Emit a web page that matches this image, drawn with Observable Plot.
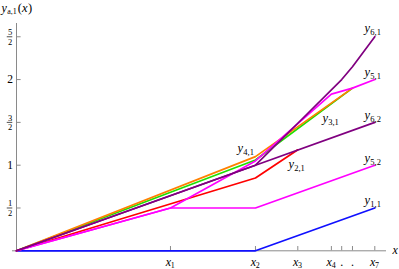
<!DOCTYPE html>
<html><head><meta charset="utf-8">
<script src="https://cdn.jsdelivr.net/npm/d3@7"></script>
<script src="https://cdn.jsdelivr.net/npm/@observablehq/plot@0.6"></script>
<style>body{margin:0;background:#fff} svg{display:block}</style>
</head><body><div id="chart"></div>
<script>
// x tick positions (x1..x7) and labels
const xTickPos  = [1, 1.552, 1.827, 2.045, 2.112, 2.182, 2.327];
const xTickSubs = ["1", "2", "3", "4", "", "", "7"];
const xTickDots = ["", "", "", "", ".", ".", ""];
// y ticks
const yTickValues = [0.5, 1, 1.5, 2, 2.5];
const yTickNum = ["1", "1", "3", "2", "5"];
const yTickDen = ["2", "", "2", "", "2"];

// series (x in units of x1, y values)
const y11X = [0, 1.552, 2.327],                       y11Y = [0, 0, 0.5];
const y52X = [0, 1, 1.552, 2.327],                    y52Y = [0, 0.5, 0.5, 1.0];
const y21X = [0, 1.552, 1.827],                       y21Y = [0, 0.85, 1.18];
const y31X = [0, 1.552, 2.182],                       y31Y = [0, 1.06, 1.90];
const y41X = [0, 1.552, 2.182],                       y41Y = [0, 1.10, 1.90];
const y51X = [0, 1, 1.552, 2.045, 2.182, 2.327],      y51Y = [0, 0.5, 1.05, 1.83, 1.90, 2.0];
const y62X = [0, 1.552, 2.327],                       y62Y = [0, 1.0, 1.5];
const y61X = [0, 1.552, 1.827, 2.045, 2.112, 2.182, 2.327], y61Y = [0, 1.0, 1.49, 1.88, 2.00, 2.15, 2.5];

// curve labels
const labelSub = ["6,1", "5,1", "6,2", "5,2", "1,1", "4,1", "3,1", "2,1"];
const labelX   = [2.260, 2.260, 2.260, 2.260, 2.260, 1.435, 1.987, 1.766];
const labelY   = [2.553, 2.039, 1.536, 1.033, 0.542, 1.150, 1.501, 0.963];

const pts = (xs, ys) => xs.map((x, i) => ({x, y: ys[i]}));
const serif = "Liberation Serif, DejaVu Serif, serif";
const axisColor = "#8a8a8a";
const lw = 1.7;

const xTicks = xTickPos.map((x, i) => ({x, sub: xTickSubs[i], dot: xTickDots[i]}));
const yTicks = yTickValues.map((y, i) => ({y, num: yTickNum[i], den: yTickDen[i]}));
const fracTicks = yTicks.filter(d => d.den !== "");
const wholeTicks = yTicks.filter(d => d.den === "");
const labels = labelSub.map((s, i) => ({x: labelX[i], y: labelY[i], sub: s}));
const xLab = xTicks.filter(d => d.sub !== "");
const dotLab = xTicks.filter(d => d.dot !== "");

const chart = Plot.plot({
  width: 399, height: 269,
  marginLeft: 16, marginRight: 13, marginTop: 23, marginBottom: 18.7,
  x: {domain: [0, 2.403], axis: null},
  y: {domain: [0, 2.655], axis: null},
  style: {fontFamily: serif, background: "#fff", color: "#000"},
  marks: [
    // axes
    Plot.ruleY([0], {x1: -0.026, x2: 2.403, stroke: axisColor}),
    Plot.ruleX([0], {y1: 0, y2: 2.655, stroke: axisColor}),
    Plot.ruleX(xTicks, {x: "x", y1: 0, y2: 0.05, stroke: axisColor}),
    Plot.ruleY(yTicks, {y: "y", x1: 0, x2: 0.03, stroke: axisColor}),
    // y tick labels
    Plot.text(wholeTicks, {x: -0.041, y: "y", text: "num", fontSize: 11.5, fontFamily: serif}),
    Plot.text(fracTicks, {x: -0.041, y: "y", text: "num", fontSize: 8.5, lineAnchor: "bottom", dy: -1.5, fontFamily: serif}),
    Plot.text(fracTicks, {x: -0.041, y: "y", text: "den", fontSize: 8.5, lineAnchor: "bottom", dy: 7.8, fontFamily: serif}),
    Plot.ruleY(fracTicks, {y: "y", x1: -0.060, x2: -0.024, stroke: "#000", strokeWidth: 0.7}),
    // x tick labels
    Plot.text(xLab, {x: "x", y: 0, text: () => "x", textAnchor: "end", lineAnchor: "bottom", dy: 14.7, dx: 0.5, fontSize: 12, fontStyle: "italic", fontFamily: serif}),
    Plot.text(xLab, {x: "x", y: 0, text: "sub", textAnchor: "start", lineAnchor: "bottom", dy: 17.5, dx: 0.3, fontSize: 8, fontFamily: serif}),
    Plot.text(dotLab, {x: "x", y: 0, text: "dot", textAnchor: "middle", lineAnchor: "bottom", dy: 14.7, fontSize: 12, fontFamily: serif}),
    Plot.text([0], {x: 2.403, y: 0, text: () => "x", textAnchor: "start", lineAnchor: "bottom", dx: 6, dy: 3.3, fontSize: 12, fontStyle: "italic", fontFamily: serif}),
    // y axis title y_{a,1}(x)
    Plot.text([0], {x: 0, y: 2.795, text: () => "y", textAnchor: "start", lineAnchor: "bottom", dx: -15, fontSize: 12, fontStyle: "italic", fontFamily: serif}),
    Plot.text([0], {x: 0, y: 2.795, text: () => "a,1", textAnchor: "start", lineAnchor: "bottom", dx: -9.3, dy: 2.5, fontSize: 8, fontFamily: serif}),
    Plot.text([0], {x: 0, y: 2.795, text: () => "(", textAnchor: "start", lineAnchor: "bottom", dx: 1.2, fontSize: 12.5, fontFamily: serif}),
    Plot.text([0], {x: 0, y: 2.795, text: () => "x", textAnchor: "start", lineAnchor: "bottom", dx: 5.6, fontSize: 12.5, fontStyle: "italic", fontFamily: serif}),
    Plot.text([0], {x: 0, y: 2.795, text: () => ")", textAnchor: "start", lineAnchor: "bottom", dx: 11.6, fontSize: 12.5, fontFamily: serif}),
    // curves
    Plot.line(pts(y11X, y11Y), {x: "x", y: "y", stroke: "#1010ff", strokeWidth: lw}),
    Plot.line(pts(y21X, y21Y), {x: "x", y: "y", stroke: "#ff0000", strokeWidth: lw}),
    Plot.line(pts(y31X, y31Y), {x: "x", y: "y", stroke: "#1ee000", strokeWidth: lw}),
    Plot.line(pts(y41X, y41Y), {x: "x", y: "y", stroke: "#ff8000", strokeWidth: lw}),
    Plot.line(pts(y52X, y52Y), {x: "x", y: "y", stroke: "#ff00ff", strokeWidth: lw}),
    Plot.line(pts(y51X, y51Y), {x: "x", y: "y", stroke: "#ff00ff", strokeWidth: lw}),
    Plot.line(pts(y62X, y62Y), {x: "x", y: "y", stroke: "#800080", strokeWidth: lw}),
    Plot.line(pts(y61X, y61Y), {x: "x", y: "y", stroke: "#800080", strokeWidth: lw}),
    // curve labels
    Plot.text(labels, {x: "x", y: "y", text: () => "y", textAnchor: "start", lineAnchor: "bottom", fontSize: 12.5, fontStyle: "italic", fontFamily: serif}),
    Plot.text(labels, {x: "x", y: "y", text: "sub", textAnchor: "start", lineAnchor: "bottom", dx: 5.8, dy: 3, fontSize: 8.5, fontFamily: serif})
  ]
});
document.getElementById("chart").appendChild(chart);
</script>
</body></html>
